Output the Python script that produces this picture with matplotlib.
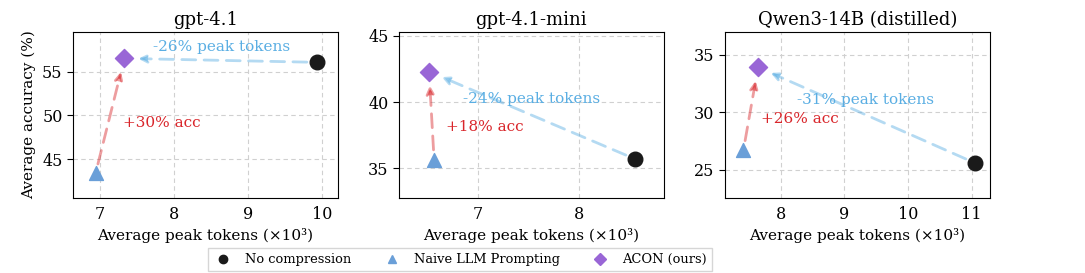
import matplotlib
matplotlib.use("Agg")
import matplotlib.pyplot as plt
from matplotlib.lines import Line2D

plt.rcParams['font.family'] = 'DejaVu Serif'

titles = ["gpt-4.1", "gpt-4.1-mini", "Qwen3-14B (distilled)"]
# (peak tokens x1e3, accuracy)
no_comp = [(9.93, 56.05), (8.56, 35.7), (11.05, 25.6)]
naive = [(6.94, 43.4), (6.56, 35.65), (7.41, 26.7)]
acon = [(7.33, 56.5), (6.51, 42.3), (7.64, 33.9)]
tok_labels = ["-26% peak tokens", "-24% peak tokens", "-31% peak tokens"]
acc_labels = ["+30% acc", "+18% acc", "+26% acc"]
tok_text_pos = [(7.72, 57.85), (6.85, 40.2), (8.25, 31.05)]
acc_text_pos = [(7.31, 49.1), (6.68, 38.1), (7.68, 29.4)]
xlims = [(6.635, 10.22), (6.21, 8.85), (7.12, 11.29)]
ylims = [(40.6, 59.5), (32.74, 45.3), (22.55, 36.96)]
xticks = [[7, 8, 9, 10], [7, 8], [8, 9, 10, 11]]
yticks = [[45, 50, 55], [35, 40, 45], [25, 30, 35]]

c_black = "#1a1a1a"
c_tri = "#6a9fd8"
c_dia = "#9966d6"
c_blue_txt = "#5aaee3"
c_red_txt = "#d9262b"

fig = plt.figure(figsize=(10.85, 2.73), dpi=100)
lefts = [0.0673, 0.3677, 0.6682]

for i in range(3):
    ax = fig.add_axes([lefts[i], 0.2747, 0.2442, 0.608])
    ax.grid(True, linestyle=(0, (4, 3)), color="#d0d0d0", linewidth=0.8)
    ax.set_axisbelow(True)
    ax.scatter(*no_comp[i], marker="o", s=110, color=c_black, zorder=3)
    ax.scatter(*naive[i], marker="^", s=100, color=c_tri, zorder=3)
    ax.scatter(*acon[i], marker="D", s=85, color=c_dia, zorder=3)
    ax.annotate("", xy=acon[i], xytext=no_comp[i],
                arrowprops=dict(arrowstyle="-|>", linestyle=(0, (5, 3)), lw=2,
                                color="#5aaee3", alpha=0.45, mutation_scale=12,
                                shrinkA=7, shrinkB=10))
    ax.annotate("", xy=acon[i], xytext=naive[i],
                arrowprops=dict(arrowstyle="-|>", linestyle=(0, (5, 3)), lw=2,
                                color="#d9262b", alpha=0.45, mutation_scale=12,
                                shrinkA=7, shrinkB=10))
    ax.text(*tok_text_pos[i], tok_labels[i], color=c_blue_txt, fontsize=11,
            va="center", ha="left")
    ax.text(*acc_text_pos[i], acc_labels[i], color=c_red_txt, fontsize=11,
            va="center", ha="left")
    ax.set_xlim(*xlims[i])
    ax.set_ylim(*ylims[i])
    ax.set_xticks(xticks[i])
    ax.set_yticks(yticks[i])
    ax.tick_params(axis="x", length=0, labelsize=11.5, pad=6)
    ax.tick_params(axis="y", length=4, labelsize=11.5)
    ax.set_title(titles[i], fontsize=13, pad=5)
    ax.set_xlabel("Average peak tokens (×10³)", fontsize=11, labelpad=3)
    if i == 0:
        ax.set_ylabel("Average accuracy (%)", fontsize=11)

handles = [
    Line2D([], [], marker="o", linestyle="none", color=c_black, markersize=6),
    Line2D([], [], marker="^", linestyle="none", color=c_tri, markersize=6),
    Line2D([], [], marker="D", linestyle="none", color=c_dia, markersize=6),
]
fig.legend(handles, ["No compression", "Naive LLM Prompting", "ACON (ours)"],
           loc="upper left", bbox_to_anchor=(0.192, 0.092), ncol=3,
           fontsize=9.4, frameon=True, handlelength=1.4, handletextpad=1.0,
           columnspacing=2.4, borderpad=0.4, borderaxespad=0,
           edgecolor="#cccccc", fancybox=False)

fig.savefig("out.png", dpi=100)
